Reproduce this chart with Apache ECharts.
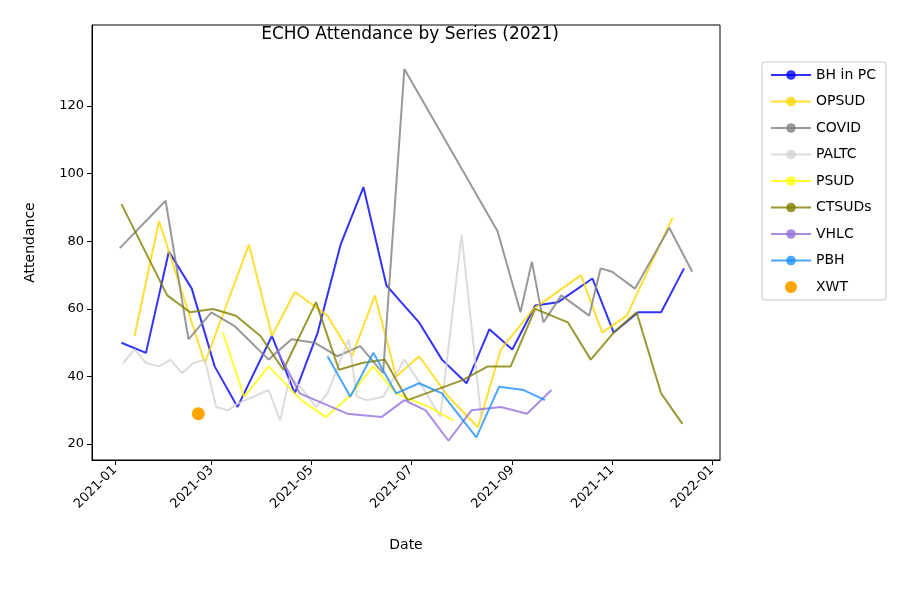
<!DOCTYPE html>
<html><head><meta charset="utf-8">
<script src="https://cdn.jsdelivr.net/npm/echarts@6/dist/echarts.min.js"></script>
<style>html,body{margin:0;padding:0;background:#fff}#c{width:922px;height:598px}</style>
</head><body><div id="c"></div>
<script>
const bhDates=['2021-01-05','2021-01-20','2021-02-03','2021-02-17','2021-03-03','2021-03-17','2021-04-07','2021-04-21','2021-05-05','2021-05-19','2021-06-02','2021-06-16','2021-06-25','2021-07-06','2021-07-20','2021-08-04','2021-08-18','2021-09-01','2021-09-15','2021-09-29','2021-10-05','2021-10-20','2021-11-02','2021-11-17','2021-12-01','2021-12-15'];
const bhVals=[50,47,77,66,43,31,52,35,53,79,96,67,62,56,45,38,54,48,61,62,64,69,53,59,59,72];
const opDates=['2021-01-13','2021-01-28','2021-02-25','2021-03-24','2021-04-07','2021-04-21','2021-05-11','2021-05-26','2021-06-09','2021-06-22','2021-07-06','2021-07-24','2021-08-11','2021-08-25','2021-09-14','2021-10-13','2021-10-26','2021-11-10','2021-12-08'];
const opVals=[52,86,44,79,52,65,58,46,64,40,46,34,25,48,60,70,53,58,87];
const covDates=['2021-01-04','2021-02-01','2021-02-15','2021-03-01','2021-03-15','2021-04-05','2021-04-19','2021-05-03','2021-05-17','2021-05-31','2021-06-14','2021-06-27','2021-08-23','2021-09-06','2021-09-13','2021-09-20','2021-10-01','2021-10-18','2021-10-25','2021-11-01','2021-11-15','2021-12-06','2021-12-20'];
const covVals=[78,92,51,59,55,45,51,50,46,49,41,131,83,59,74,56,64,58,72,71,66,84,71];
const palDates=['2021-01-06','2021-01-13','2021-01-20','2021-01-28','2021-02-04','2021-02-11','2021-02-18','2021-02-25','2021-03-04','2021-03-11','2021-03-17','2021-04-05','2021-04-12','2021-04-18','2021-04-26','2021-05-04','2021-05-11','2021-05-24','2021-05-29','2021-06-04','2021-06-14','2021-06-27','2021-07-08','2021-07-19','2021-08-01','2021-08-13'];
const palVals=[44,48,44,43,45,41,44,45,31,30,32,36,27,40,36,31,35,51,34,33,34,45,37,28,82,28];
const psDates=['2021-03-08','2021-03-21','2021-04-05','2021-04-25','2021-05-10','2021-05-24','2021-06-08','2021-06-22','2021-07-12','2021-07-27'];
const psVals=[53,34,43,33,28,34,43,35,31,27];
const ctDates=['2021-01-05','2021-02-02','2021-02-16','2021-03-02','2021-03-16','2021-03-31','2021-04-14','2021-05-04','2021-05-18','2021-06-01','2021-06-15','2021-06-29','2021-08-02','2021-08-17','2021-08-31','2021-09-15','2021-10-05','2021-10-19','2021-11-02','2021-11-16','2021-12-01','2021-12-14'];
const ctVals=[91,64,59,60,58,52,42,62,42,44,45,33,39,43,43,60,56,45,53,59,35,26];
const vhDates=['2021-04-10','2021-04-24','2021-05-23','2021-06-13','2021-06-27','2021-07-10','2021-07-24','2021-08-07','2021-08-25','2021-09-10','2021-09-25'];
const vhVals=[48,35,29,28,33,30,21,30,31,29,36];
const pbDates=['2021-05-11','2021-05-25','2021-06-08','2021-06-22','2021-07-06','2021-07-20','2021-08-10','2021-08-24','2021-09-08','2021-09-21'];
const pbVals=[46,34,47,35,38,35,22,37,36,33];
const xwDates=['2021-02-21'];
const xwVals=[29];
const xTicks=['2021-01-01','2021-03-01','2021-05-01','2021-07-01','2021-09-01','2021-11-01','2022-01-01'];
const yTicks=[20,40,60,80,100,120];

const ts=s=>Date.UTC(+s.slice(0,4),+s.slice(5,7)-1,+s.slice(8,10));
const zip=(d,v)=>d.map((x,i)=>[ts(x),v[i]]);
const ln=(name,color,d,v)=>({name,type:'line',data:zip(d,v),symbol:'none',showSymbol:false,
  lineStyle:{color,width:2,opacity:0.8},itemStyle:{color,opacity:0.8},z:2});
const chart=echarts.init(document.getElementById('c'));
const font='DejaVu Sans';
chart.setOption({
  animation:false,
  textStyle:{fontFamily:font},
  title:{text:'ECHO Attendance by Series (2021)',left:405,top:21,textAlign:'center',textStyle:{fontSize:17,fontWeight:'normal',color:'#000',fontFamily:font}},
  grid:{left:92,right:202,top:25,bottom:138,show:true,borderColor:'#000',borderWidth:1},
  legend:{orient:'vertical',left:762,top:62,itemWidth:40,itemHeight:12,itemGap:12.5,padding:[6,10,6,8],
    borderColor:'#ccc',borderWidth:1,borderRadius:3,textStyle:{fontSize:14,color:'#000',fontFamily:font},
    data:['BH in PC','OPSUD','COVID','PALTC','PSUD','CTSUDs','VHLC','PBH',{name:'XWT',icon:'circle'}]},
  xAxis:{type:'value',min:ts('2020-12-18'),max:ts('2022-01-06'),name:'Date',nameLocation:'middle',nameGap:78,
    nameTextStyle:{fontSize:14,color:'#000'},
    axisLine:{lineStyle:{color:'#000'}},splitLine:{show:false},
    axisTick:{show:true,length:5,customValues:xTicks.map(ts),lineStyle:{color:'#000'}},
    axisLabel:{customValues:xTicks.map(ts),rotate:45,fontSize:13,color:'#000',margin:8,
      formatter:v=>{const d=new Date(v);return d.getUTCFullYear()+'-'+String(d.getUTCMonth()+1).padStart(2,'0');}}},
  yAxis:{type:'value',min:15.3,max:144,name:'Attendance',nameLocation:'middle',nameGap:55,
    nameTextStyle:{fontSize:14,color:'#000'},
    axisLine:{show:true,lineStyle:{color:'#000'}},splitLine:{show:false},
    axisTick:{show:true,length:5,customValues:yTicks,lineStyle:{color:'#000'}},
    axisLabel:{customValues:yTicks,fontSize:13,color:'#000',margin:8}},
  series:[
    ln('BH in PC','#0000ff',bhDates,bhVals),
    ln('OPSUD','#ffd700',opDates,opVals),
    ln('COVID','#808080',covDates,covVals),
    ln('PALTC','#d3d3d3',palDates,palVals),
    ln('PSUD','#ffff00',psDates,psVals),
    ln('CTSUDs','#808000',ctDates,ctVals),
    ln('VHLC','#9370db',vhDates,vhVals),
    ln('PBH','#1e90ff',pbDates,pbVals),
    {name:'XWT',type:'scatter',data:zip(xwDates,xwVals),symbolSize:13,itemStyle:{color:'#ffa500',opacity:1},z:3}
  ]
});
</script></body></html>
